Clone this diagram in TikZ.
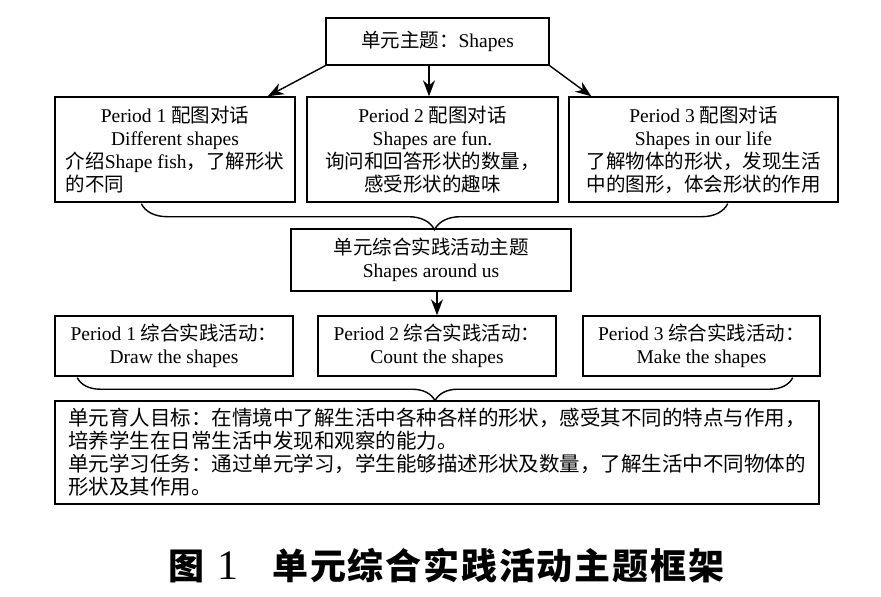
\documentclass[tikz,border=0pt]{standalone}
\usepackage{fontspec}
\usepackage{calc}
\usetikzlibrary{arrows.meta,calc,decorations.pathreplacing}
\setmainfont{Liberation Serif}
\newfontfamily\cjk{Noto Sans CJK SC}
\newfontfamily\cjkcap[LetterSpace=5]{Noto Sans CJK SC}
\newcommand\zh[1]{{\cjk #1}}
\tikzset{
  box/.style={draw, line width=1.4pt, align=center, inner sep=0pt,
    font=\fontsize{19.5}{23}\selectfont},
  arr/.style={line width=1.4pt, -{Stealth[length=16pt,width=12pt]}},
  brc/.style={line width=1.4pt, decorate, decoration={brace, mirror, amplitude=#1}},
}
\begin{document}
\begin{tikzpicture}[x=1pt,y=-1pt]
\useasboundingbox[fill=white] (0,0) rectangle (881,597);

\node[box, minimum width=223pt, minimum height=47pt] (top) at (437.5,41.5) {\zh{单元主题：}Shapes};

\node[box, minimum width=240pt, minimum height=105pt] (p1) at (175,149.5)
  {Period 1 \zh{配图对话}\\Different shapes\\\zh{介绍}Shape fish\zh{，了解形状}\\\makebox[\widthof{\zh{介绍}Shape fish\zh{，了解形状}}][l]{\zh{的不同}}};
\node[box, minimum width=251pt, minimum height=105pt] (p2) at (432.5,149.5)
  {Period 2 \zh{配图对话}\\Shapes are fun.\\\zh{询问和回答形状的数量，}\\\zh{感受形状的趣味}};
\node[box, minimum width=269pt, minimum height=105pt] (p3) at (703.5,149.5)
  {Period 3 \zh{配图对话}\\Shapes in our life\\\zh{了解物体的形状，发现生活}\\\zh{中的图形，体会形状的作用}};

\node[box, minimum width=280pt, minimum height=62pt] (mid) at (431,260)
  {\zh{单元综合实践活动主题}\\Shapes around us};

\node[box, minimum width=238pt, minimum height=60pt] (r1) at (174,346)
  {Period 1 \zh{综合实践活动：}\\Draw the shapes};
\node[box, minimum width=238pt, minimum height=60pt] (r2) at (437,346)
  {Period 2 \zh{综合实践活动：}\\Count the shapes};
\node[box, minimum width=237pt, minimum height=60pt] (r3) at (701.5,346)
  {Period 3 \zh{综合实践活动：}\\Make the shapes};

\node[box, minimum width=764pt, minimum height=103pt, align=left,
  font=\fontsize{20.5}{23}\selectfont] (goal) at (437,452.5)
  {\zh{单元育人目标：在情境中了解生活中各种各样的形状，感受其不同的特点与作用，}\\
   \zh{培养学生在日常生活中发现和观察的能力。}\\
   \zh{单元学习任务：通过单元学习，学生能够描述形状及数量，了解生活中不同物体的}\\
   \zh{形状及其作用。}};

\draw[arr] (top.south west) -- ($(p1.north east)+(-28,0)$);
\draw[arr] ($(top.south)+(-8.5,0)$) -- ($(p2.north)+(-3.5,0)$);
\draw[arr] (top.south east) -- ($(p3.north west)+(23,0)$);
\draw[arr] (mid.south -| r2.north) -- (r2.north);

\draw[brc=26] ($(p1.south west)+(87,1)$) -- ($(p3.south east)+(-111,1)$);
\draw[brc=23] ($(r1.south west)+(23,1)$) -- ($(r3.south east)+(-28,1)$);

\node[anchor=west, inner sep=0pt] (cap) at (168,566)
  {{\cjk\bfseries\fontsize{36}{36}\selectfont 图}\hspace{13pt}{\fontsize{42}{42}\selectfont 1}\hspace{34pt}{\cjkcap\bfseries\fontsize{36}{36}\selectfont 单元综合实践活动主题框架}};
\end{tikzpicture}
\end{document}
